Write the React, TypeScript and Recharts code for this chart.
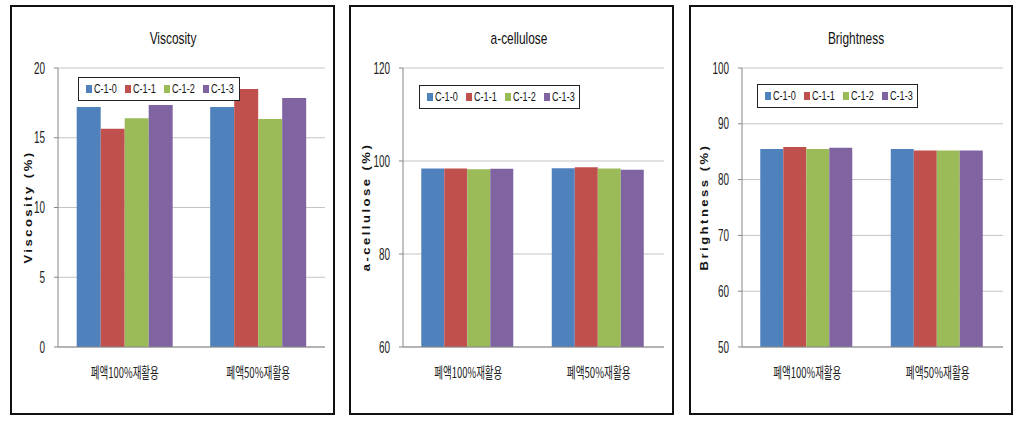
import { BarChart, Bar, XAxis, YAxis, CartesianGrid } from "recharts";

const categories = ["폐액100%재활용", "폐액50%재활용"];
const seriesNames = ["C-1-0", "C-1-1", "C-1-2", "C-1-3"];
const seriesColors = ["#4F81BD", "#C0504D", "#9BBB59", "#8064A2"];

// values per category, in series order C-1-0 .. C-1-3
const viscosity100 = [17.2, 15.65, 16.4, 17.35];
const viscosity50 = [17.2, 18.5, 16.35, 17.85];
const cellulose100 = [98.4, 98.4, 98.2, 98.35];
const cellulose50 = [98.45, 98.65, 98.4, 98.1];
const brightness100 = [85.5, 85.85, 85.5, 85.7];
const brightness50 = [85.5, 85.2, 85.2, 85.2];

const viscosityTicks = [0, 5, 10, 15, 20];
const celluloseTicks = [60, 80, 100, 120];
const brightnessTicks = [50, 60, 70, 80, 90, 100];

const SANS = "'Liberation Sans', Arial, 'Noto Sans CJK KR', sans-serif";
const KR = "'Noto Sans CJK KR', 'Liberation Sans', sans-serif";

type Panel = {
  title: string;
  yLabel: string;
  rows: number[][];
  ticks: number[];
  left: number;
  width: number;
  plotLeft: number;
  titleX: number;
  yLabelX: number;
  legend: { left: number; top: number; width: number };
};

const panels: Panel[] = [
  {
    title: "Viscosity",
    yLabel: "Viscosity (%)",
    rows: [viscosity100, viscosity50],
    ticks: viscosityTicks,
    left: 10,
    width: 325,
    plotLeft: 46,
    titleX: 161,
    yLabelX: 17,
    legend: { left: 66, top: 70, width: 162 },
  },
  {
    title: "a-cellulose",
    yLabel: "a-cellulose (%)",
    rows: [cellulose100, cellulose50],
    ticks: celluloseTicks,
    left: 349,
    width: 325,
    plotLeft: 52,
    titleX: 168,
    yLabelX: 16,
    legend: { left: 68, top: 78, width: 161 },
  },
  {
    title: "Brightness",
    yLabel: "Brightness (%)",
    rows: [brightness100, brightness50],
    ticks: brightnessTicks,
    left: 689,
    width: 324,
    plotLeft: 51,
    titleX: 165,
    yLabelX: 14,
    legend: { left: 66, top: 77, width: 161 },
  },
];

const CategoryTick = (props: any) => {
  const { x, y, payload } = props;
  const label = String(payload.value);
  return (
    <text
      x={x}
      y={y + 26}
      dy="0.35em"
      textAnchor="middle"
      fontSize={15}
      fontFamily={KR}
      fill="#222"
      textLength={label.includes("100") ? 68 : 64}
      lengthAdjust="spacingAndGlyphs"
    >
      {label}
    </text>
  );
};

const ValueTick = (props: any) => {
  const { x, y, payload } = props;
  return (
    <g transform={`translate(${x},${y}) scale(0.62,1)`}>
      <text x={0} y={0} dy="0.35em" textAnchor="end" fontSize={16} fontFamily={SANS} fill="#222">
        {payload.value}
      </text>
    </g>
  );
};

function LegendBox({ box }: { box: Panel["legend"] }) {
  return (
    <div
      style={{
        position: "absolute",
        left: box.left,
        top: box.top,
        width: box.width,
        height: 24,
        border: "1px solid #222",
        display: "flex",
        alignItems: "center",
        paddingLeft: 7,
        boxSizing: "border-box",
        background: "#fff",
      }}
    >
      {seriesNames.map((name, i) => (
        <div key={name} style={{ display: "flex", alignItems: "center", width: 39, height: 14 }}>
          <span
            style={{
              display: "inline-block",
              width: 6,
              height: 8,
              background: seriesColors[i],
              marginRight: 2,
              flex: "none",
            }}
          />
          <span
            style={{
              display: "inline-block",
              fontFamily: SANS,
              fontSize: 13,
              color: "#111",
              lineHeight: "14px",
              transform: "scaleX(0.7)",
              transformOrigin: "left center",
              whiteSpace: "nowrap",
            }}
          >
            {name}
          </span>
        </div>
      ))}
    </div>
  );
}

function ChartPanel({ p }: { p: Panel }) {
  const data = categories.map((c, ci) => {
    const row: Record<string, string | number> = { category: c };
    seriesNames.forEach((s, si) => {
      row[s] = p.rows[ci][si];
    });
    return row;
  });
  const innerW = p.width - 4;
  const innerH = 406;
  const yAxisWidth = 40;
  return (
    <div
      style={{
        position: "absolute",
        left: p.left,
        top: 5,
        width: innerW,
        height: innerH,
        border: "2px solid #111",
        background: "#fff",
      }}
    >
      <div
        style={{
          position: "absolute",
          left: p.titleX - 60,
          width: 120,
          top: 22,
          textAlign: "center",
          fontFamily: SANS,
          fontSize: 17,
          lineHeight: "20px",
          color: "#111",
          transform: "scaleX(0.7)",
        }}
      >
        {p.title}
      </div>
      <div
        style={{
          position: "absolute",
          left: p.yLabelX - 100,
          top: 192,
          width: 200,
          height: 16,
          textAlign: "center",
          transform: "rotate(-90deg) scaleY(0.8)",
          fontFamily: SANS,
          fontWeight: "bold",
          fontSize: 13,
          letterSpacing: 2.5,
          lineHeight: "16px",
          color: "#111",
          whiteSpace: "nowrap",
        }}
      >
        {p.yLabel}
      </div>
      <div style={{ position: "absolute", left: 0, top: 0 }}>
        <BarChart
          width={innerW}
          height={innerH}
          data={data}
          margin={{ top: 61, right: 8, bottom: 36, left: p.plotLeft - yAxisWidth }}
          barCategoryGap="14%"
          barGap={0}
        >
          <CartesianGrid vertical={false} stroke="#c4c4c4" />
          <XAxis
            xAxisId="edges"
            type="number"
            domain={[0, categories.length]}
            ticks={[0, 1, 2]}
            height={0}
            axisLine={false}
            tick={false}
            tickSize={5}
            stroke="#868686"
          />
          <XAxis
            dataKey="category"
            height={30}
            tickLine={false}
            tickSize={0}
            tickMargin={0}
            stroke="#868686"
            tick={<CategoryTick />}
            interval={0}
          />
          <YAxis
            width={yAxisWidth}
            domain={[p.ticks[0], p.ticks[p.ticks.length - 1]]}
            ticks={p.ticks}
            interval={0}
            allowDataOverflow
            stroke="#868686"
            tickSize={4}
            tickMargin={9}
            tick={<ValueTick />}
          />
          {seriesNames.map((s, i) => (
            <Bar key={s} dataKey={s} fill={seriesColors[i]} isAnimationActive={false} />
          ))}
        </BarChart>
      </div>
      <LegendBox box={p.legend} />
    </div>
  );
}

export default function App() {
  return (
    <div
      style={{
        position: "absolute",
        left: 0,
        top: 0,
        width: 1023,
        height: 429,
        background: "#fff",
      }}
    >
      {panels.map((p) => (
        <ChartPanel key={p.title} p={p} />
      ))}
    </div>
  );
}
